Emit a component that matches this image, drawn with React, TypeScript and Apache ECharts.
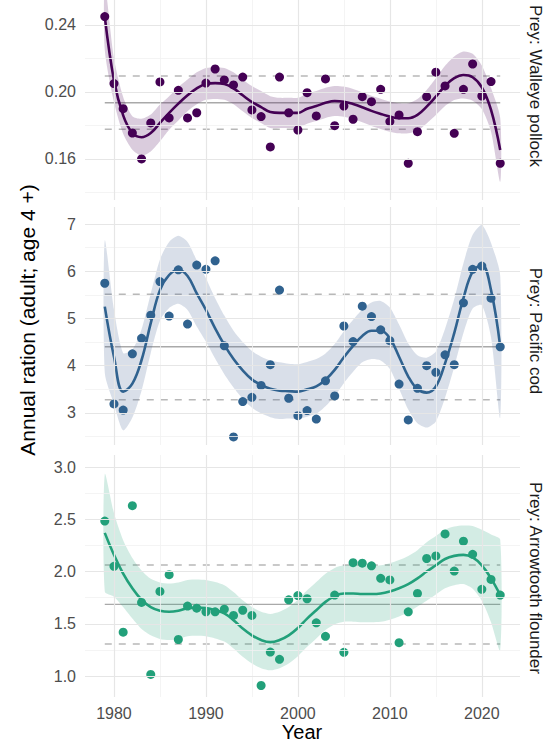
import React, { useEffect, useRef } from "react";
import * as echarts from "echarts";

const years = [1979, 1980, 1981, 1982, 1983, 1984, 1985, 1986, 1987, 1988, 1989, 1990, 1991, 1992, 1993, 1994, 1995, 1996, 1997, 1998, 1999, 2000, 2001, 2002, 2003, 2004, 2005, 2006, 2007, 2008, 2009, 2010, 2011, 2012, 2013, 2014, 2015, 2016, 2017, 2018, 2019, 2020, 2021, 2022];

const panelNames = ["Prey: Walleye pollock", "Prey: Pacific cod", "Prey: Arrowtooth flounder"];

const pollockPoints = [0.245, 0.205, 0.190, 0.1755, 0.160, 0.1815, 0.206, 0.1845, 0.201, 0.1845, 0.1876, 0.2053, 0.2137, 0.2072, 0.2042, 0.2089, 0.1893, 0.1853, 0.1672, 0.2089, 0.1876, 0.1773, 0.1996, 0.1857, 0.2078, 0.1799, 0.1916, 0.1837, 0.1972, 0.1942, 0.2016, 0.1823, 0.1863, 0.1574, 0.1763, 0.1972, 0.2118, 0.2036, 0.1753, 0.2016, 0.2167, 0.1976, 0.2062, 0.1574];
const pollockSmooth = [0.245, 0.207, 0.186, 0.1755, 0.173, 0.1755, 0.1815, 0.1875, 0.193, 0.198, 0.2022, 0.2048, 0.2053, 0.2048, 0.2022, 0.198, 0.194, 0.191, 0.188, 0.1875, 0.1875, 0.1875, 0.190, 0.1916, 0.1935, 0.1946, 0.1942, 0.1928, 0.1909, 0.1887, 0.1869, 0.1853, 0.1843, 0.1843, 0.1863, 0.1912, 0.1972, 0.2036, 0.2082, 0.2101, 0.2088, 0.2028, 0.1893, 0.1654];
const pollockSE = [0.02, 0.013, 0.011, 0.01, 0.011, 0.011, 0.011, 0.01, 0.01, 0.0095, 0.0095, 0.0095, 0.0095, 0.0095, 0.0095, 0.0095, 0.0095, 0.0095, 0.0095, 0.009, 0.009, 0.009, 0.009, 0.009, 0.009, 0.009, 0.009, 0.009, 0.009, 0.009, 0.009, 0.009, 0.009, 0.009, 0.0095, 0.01, 0.011, 0.012, 0.013, 0.014, 0.014, 0.013, 0.013, 0.019];
const pollockRef = [0.1777, 0.1936, 0.2096];

const codPoints = [5.745, 3.19, 3.06, 4.25, 4.58, 5.07, 5.78, 5.05, 6.03, 4.88, 6.13, 6.04, 6.22, 4.42, 2.49, 3.24, 3.33, 3.58, 4.02, 5.60, 3.31, 2.94, 3.05, 2.87, 3.68, 3.36, 4.84, 4.51, 5.26, 5.04, 4.76, 4.53, 3.61, 2.85, 3.52, 4.00, 3.86, 4.23, 4.02, 5.33, 6.04, 6.11, 5.43, 4.40];
const codSmooth = [5.25, 4.19, 3.45, 3.62, 4.12, 4.90, 5.60, 5.92, 6.03, 5.90, 5.53, 5.18, 4.79, 4.44, 4.14, 3.90, 3.71, 3.59, 3.51, 3.47, 3.46, 3.45, 3.50, 3.56, 3.70, 3.91, 4.18, 4.42, 4.63, 4.74, 4.74, 4.58, 4.19, 3.77, 3.50, 3.43, 3.56, 4.05, 4.69, 5.43, 5.99, 6.13, 5.60, 4.40];
const codSE = [1.4, 1.0, 0.82, 0.72, 0.65, 0.63, 0.65, 0.7, 0.72, 0.72, 0.7, 0.67, 0.64, 0.62, 0.6, 0.6, 0.6, 0.6, 0.6, 0.6, 0.58, 0.58, 0.58, 0.58, 0.56, 0.55, 0.55, 0.55, 0.56, 0.6, 0.63, 0.65, 0.68, 0.7, 0.72, 0.74, 0.74, 0.73, 0.72, 0.74, 0.78, 0.85, 1.0, 1.5];
const codRef = [3.28, 4.40, 5.51];

const arrowPoints = [2.483, 2.05, 1.42, 2.63, 1.705, 1.016, 1.81, 1.97, 1.35, 1.67, 1.65, 1.615, 1.615, 1.64, 1.58, 1.63, 1.58, 0.91, 1.23, 1.16, 1.73, 1.77, 1.74, 1.51, 1.38, 1.775, 1.227, 2.085, 2.08, 2.055, 1.935, 1.92, 1.32, 1.615, 1.79, 2.125, 2.15, 2.36, 2.005, 2.29, 2.165, 1.83, 1.925, 1.775];
const arrowSmooth = [2.37, 2.16, 1.98, 1.84, 1.73, 1.66, 1.625, 1.615, 1.625, 1.65, 1.655, 1.65, 1.63, 1.60, 1.535, 1.455, 1.39, 1.345, 1.325, 1.345, 1.39, 1.46, 1.55, 1.63, 1.71, 1.765, 1.79, 1.79, 1.785, 1.785, 1.79, 1.81, 1.84, 1.88, 1.935, 2.0, 2.06, 2.12, 2.15, 2.16, 2.135, 2.06, 1.935, 1.775];
const arrowSE = [0.56, 0.4, 0.32, 0.29, 0.28, 0.27, 0.27, 0.27, 0.27, 0.27, 0.27, 0.27, 0.27, 0.27, 0.27, 0.27, 0.27, 0.27, 0.27, 0.27, 0.27, 0.27, 0.27, 0.27, 0.27, 0.27, 0.27, 0.27, 0.27, 0.27, 0.27, 0.27, 0.27, 0.27, 0.27, 0.28, 0.28, 0.28, 0.28, 0.28, 0.3, 0.34, 0.42, 0.53];
const arrowRef = [1.306, 1.686, 2.062];

const xMajorTicks = [1980, 1990, 2000, 2010, 2020];
const xMinorTicks = [1985, 1995, 2005, 2015];

const pollockMajor = [0.16, 0.20, 0.24];
const pollockMinor = [0.14, 0.18, 0.22];
const codMajor = [3, 4, 5, 6, 7];
const codMinor = [2.5, 3.5, 4.5, 5.5, 6.5];
const arrowMajor = [1.0, 1.5, 2.0, 2.5, 3.0];
const arrowMinor = [1.25, 1.75, 2.25, 2.75];

const FONT = '"Liberation Sans", Arial, sans-serif';

export default function App() {
  const ref = useRef<HTMLDivElement>(null);
  useEffect(() => {
    if (!ref.current) return;
    const chart = echarts.init(ref.current, null, { renderer: "svg" });

    const panels = [
      { points: pollockPoints, smooth: pollockSmooth, se: pollockSE, ref: pollockRef, major: pollockMajor, minor: pollockMinor, color: "#440154", band: "#440154", yMin: 0.1355, yMax: 0.2549, digits: 2, top: 0, height: 200, stripY: 86 },
      { points: codPoints, smooth: codSmooth, se: codSE, ref: codRef, major: codMajor, minor: codMinor, color: "#30628F", band: "#3f5f8f", yMin: 2.32, yMax: 7.36, digits: 0, top: 207, height: 238, stripY: 331 },
      { points: arrowPoints, smooth: arrowSmooth, se: arrowSE, ref: arrowRef, major: arrowMajor, minor: arrowMinor, color: "#22A07A", band: "#22A07A", yMin: 0.80, yMax: 3.115, digits: 1, top: 455, height: 242, stripY: 578 },
    ];

    const xMin = 1976.85;
    const xMax = 2024.15;

    const grid: any[] = [];
    const xAxis: any[] = [];
    const yAxis: any[] = [];
    const series: any[] = [];
    const graphic: any[] = [];

    panels.forEach((p, i) => {
      grid.push({ left: 85, right: 28, top: p.top, height: p.height, containLabel: false });
      xAxis.push({
        type: "value", gridIndex: i, min: xMin, max: xMax,
        axisLine: { show: false }, axisTick: { show: false }, splitLine: { show: false },
        axisLabel: {
          show: i === 2, customValues: xMajorTicks, color: "#4d4d4d", fontSize: 16, fontFamily: FONT, margin: 8,
          formatter: (v: number) => String(Math.round(v)),
        },
      });
      yAxis.push({
        type: "value", gridIndex: i, min: p.yMin, max: p.yMax,
        axisLine: { show: false }, axisTick: { show: false }, splitLine: { show: false },
        axisLabel: {
          show: true, customValues: p.major, color: "#4d4d4d", fontSize: 16, fontFamily: FONT, margin: 9,
          formatter: (v: number) => v.toFixed(p.digits),
        },
      });

      const gridData: any[] = [];
      p.minor.forEach((v) => gridData.push({ yAxis: v, lineStyle: { color: "#f1f1f1", width: 0.8, type: "solid" } }));
      xMinorTicks.forEach((v) => gridData.push({ xAxis: v, lineStyle: { color: "#f1f1f1", width: 0.8, type: "solid" } }));
      p.major.forEach((v) => gridData.push({ yAxis: v, lineStyle: { color: "#e6e6e6", width: 1.2, type: "solid" } }));
      xMajorTicks.forEach((v) => gridData.push({ xAxis: v, lineStyle: { color: "#e6e6e6", width: 1.2, type: "solid" } }));

      series.push({
        type: "line", xAxisIndex: i, yAxisIndex: i, data: [], z: 0, silent: true,
        markLine: { silent: true, symbol: ["none", "none"], label: { show: false }, animation: false, data: gridData },
      });

      series.push({
        type: "line", xAxisIndex: i, yAxisIndex: i, z: 1, silent: true, symbol: "none",
        data: [[years[0], p.ref[1]], [years[years.length - 1], p.ref[1]]],
        lineStyle: { color: "#a9a9a9", width: 1.4, type: "solid" },
      });
      [p.ref[0], p.ref[2]].forEach((v) => {
        series.push({
          type: "line", xAxisIndex: i, yAxisIndex: i, z: 1, silent: true, symbol: "none",
          data: [[years[0], v], [years[years.length - 1], v]],
          lineStyle: { color: "#b8b8b8", width: 1.5, type: [7, 7] },
        });
      });

      const lo = p.smooth.map((v, k) => v - p.se[k]);
      const hi = p.smooth.map((v, k) => v + p.se[k]);
      series.push({
        type: "custom", xAxisIndex: i, yAxisIndex: i, z: 2, silent: true, clip: true,
        data: years.map((y, k) => [y, lo[k], hi[k]]),
        encode: { x: 0, y: [1, 2] },
        renderItem: (params: any, api: any) => {
          if (params.dataIndex !== 0) return null;
          const pts: number[][] = [];
          for (let k = 0; k < years.length; k++) pts.push(api.coord([years[k], hi[k]]));
          for (let k = years.length - 1; k >= 0; k--) pts.push(api.coord([years[k], lo[k]]));
          return { type: "polygon", shape: { points: pts, smooth: 0.25 }, style: { fill: p.band, opacity: 0.2 } };
        },
      });

      series.push({
        type: "line", xAxisIndex: i, yAxisIndex: i, z: 3, silent: true, symbol: "none", smooth: 0.4,
        data: years.map((y, k) => [y, p.smooth[k]]),
        lineStyle: { color: p.color, width: 2.6 },
      });

      series.push({
        type: "scatter", xAxisIndex: i, yAxisIndex: i, z: 4, silent: true, symbolSize: 9,
        data: years.map((y, k) => [y, p.points[k]]),
        itemStyle: { color: p.color, opacity: 1 },
      });

      graphic.push({
        type: "text", x: 535, y: p.stripY, rotation: -Math.PI / 2,
        style: { text: panelNames[i], fill: "#1a1a1a", font: `17px ${FONT}`, textAlign: "center", textVerticalAlign: "middle" },
      });
    });

    graphic.push({
      type: "text", x: 27, y: 320, rotation: Math.PI / 2,
      style: { text: "Annual ration (adult; age 4 +)", fill: "#000000", font: `21px ${FONT}`, textAlign: "center", textVerticalAlign: "middle" },
    });
    graphic.push({
      type: "text", x: 302, y: 732,
      style: { text: "Year", fill: "#000000", font: `20px ${FONT}`, textAlign: "center", textVerticalAlign: "middle" },
    });

    chart.setOption({
      animation: false,
      backgroundColor: "#ffffff",
      textStyle: { fontFamily: FONT },
      grid, xAxis, yAxis, series, graphic,
    });
    return () => chart.dispose();
  }, []);
  return <div ref={ref} style={{ position: "absolute", left: 0, top: 0, width: 548, height: 745 }} />;
}
